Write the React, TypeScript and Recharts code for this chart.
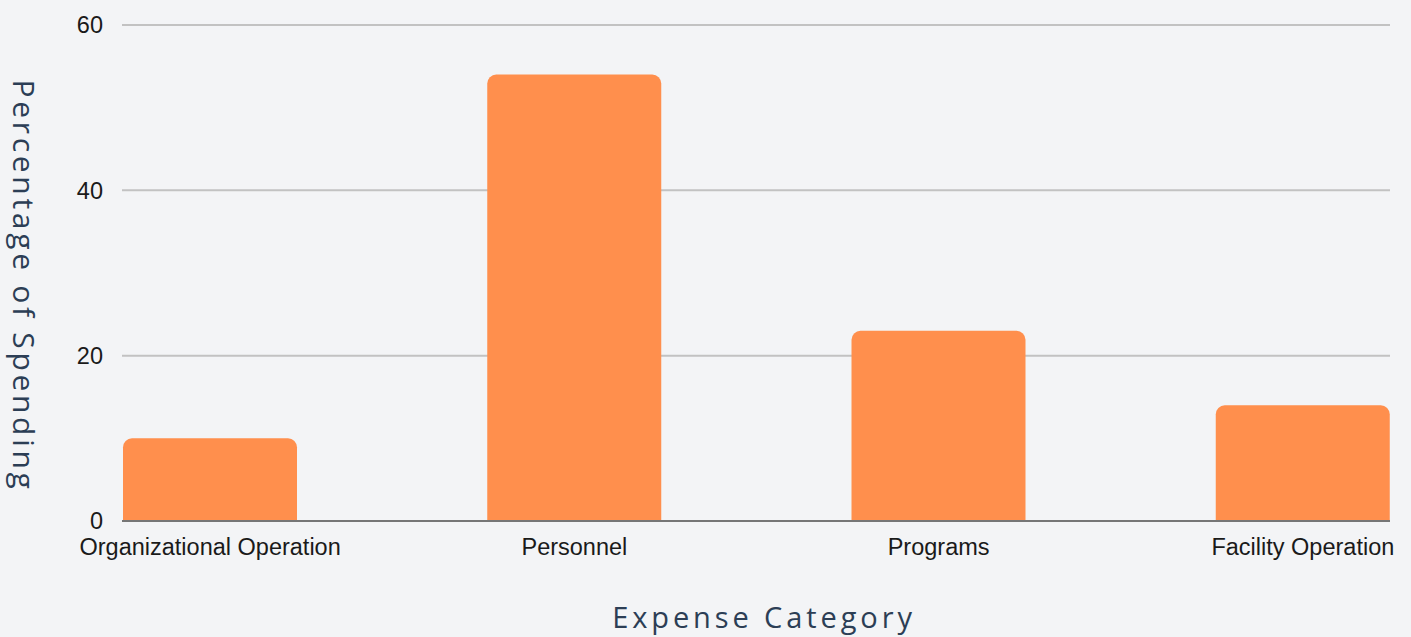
import React from "react";
import { BarChart, Bar, XAxis, YAxis, CartesianGrid, Label } from "recharts";

const categories = ["Organizational Operation", "Personnel", "Programs", "Facility Operation"];
const percentages = [10, 54, 23, 14];
const yTicks = [0, 20, 40, 60];

const data = categories.map((c, i) => ({ category: c, value: percentages[i] }));

const BG = "#f3f4f6";
const TITLE_COLOR = "#2c3e55";
const TITLE_FONT = "Open Sans, sans-serif";
const TICK_FONT = "Liberation Sans, Arial, sans-serif";

const XTitle = (props: any) => {
  const vb = props.viewBox || {};
  const cx = vb.x + vb.width / 2 + 8;
  const by = vb.y + vb.height - 9;
  return (
    <text x={cx} y={by} textAnchor="middle" fill={TITLE_COLOR} fontSize={29} letterSpacing={3.9} fontFamily={TITLE_FONT}>
      Expense Category
    </text>
  );
};

const YTitle = (props: any) => {
  const vb = props.viewBox || {};
  const bx = vb.x + 13;
  const cy = vb.y + vb.height / 2 + 13;
  return (
    <text
      x={bx}
      y={cy}
      transform={`rotate(90, ${bx}, ${cy})`}
      textAnchor="middle"
      fill={TITLE_COLOR}
      fontSize={30}
      letterSpacing={3.7}
      fontFamily={TITLE_FONT}
    >
      Percentage of Spending
    </text>
  );
};

export default function App() {
  return (
    <div style={{ position: "absolute", left: 0, top: 0, width: 1411, height: 637, background: BG }}>
      <BarChart
        width={1411}
        height={637}
        data={data}
        margin={{ top: 25, right: 21, left: 0, bottom: 0 }}
      >
        <CartesianGrid vertical={false} stroke="#c2c2c2" strokeWidth={2} />
        <XAxis
          dataKey="category"
          padding={{ left: -94, right: -95 }}
          height={116}
          tickLine={false}
          tickSize={0}
          tickMargin={17}
          axisLine={{ stroke: "#767676", strokeWidth: 2 }}
          tick={{ fill: "#1a1a1a", fontSize: 23.5, fontFamily: TICK_FONT }}
          interval={0}
        >
          <Label content={<XTitle />} position="insideBottom" />
        </XAxis>
        <YAxis
          width={122}
          domain={[0, 60]}
          ticks={yTicks}
          tickLine={false}
          axisLine={false}
          tickSize={0}
          tickMargin={19}
          tick={{ fill: "#1a1a1a", fontSize: 23.5, fontFamily: TICK_FONT }}
        >
          <Label content={<YTitle />} position="insideLeft" />
        </YAxis>
        <Bar dataKey="value" fill="#ff8f4d" barSize={174} radius={[9, 9, 0, 0]} isAnimationActive={false} />
      </BarChart>
    </div>
  );
}
